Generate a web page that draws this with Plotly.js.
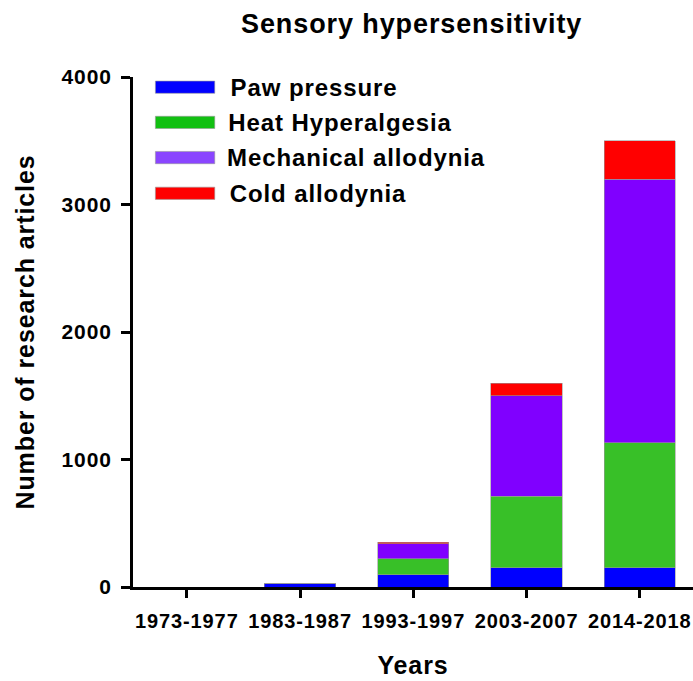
<!DOCTYPE html>
<html>
<head>
<meta charset="utf-8">
<script src="https://cdn.plot.ly/plotly-3.0.1.min.js"></script>
<style>
html,body{margin:0;padding:0;background:#fff;}
#chart{width:693px;height:681px;}
#chart svg text{letter-spacing:0.9px;}
</style>
</head>
<body>
<div id="chart"></div>
<script>
const years = ['1973-1977', '1983-1987', '1993-1997', '2003-2007', '2014-2018'];
const pawPressure = [0, 25, 95, 150, 150];
const heatHyperalgesia = [0, 0, 125, 560, 980];
const mechanicalAllodynia = [0, 0, 118, 790, 2070];
const coldAllodynia = [0, 0, 12, 100, 300];
const seriesNames = ['Paw pressure', 'Heat Hyperalgesia', 'Mechanical allodynia', 'Cold allodynia'];
const barColors = ['#0000FF', '#38C028', '#8000FF', '#FF0000'];
const legendColors = ['#0000FF', '#12C012', '#8A45FF', '#FF0000'];
const yTicks = [0, 1000, 2000, 3000, 4000];

const seriesValues = [pawPressure, heatHyperalgesia, mechanicalAllodynia, coldAllodynia];
const FONT = 'Arial, "Liberation Sans", Helvetica, sans-serif';

const traces = seriesValues.map((vals, i) => ({
  type: 'bar',
  name: seriesNames[i],
  x: years,
  y: vals,
  marker: {color: barColors[i], line: {color: '#9a9a9a', width: 0.6}},
  showlegend: false,
  hoverinfo: 'x+y+name'
}));

const shapes = [];
const annotations = [];
const legendY = [0.980, 0.911, 0.842, 0.772];
seriesNames.forEach((name, i) => {
  shapes.push({
    type: 'rect', xref: 'paper', yref: 'paper',
    x0: 0.040, x1: 0.146,
    y0: legendY[i] - 0.012, y1: legendY[i] + 0.012,
    fillcolor: legendColors[i], line: {color: '#999', width: 0.6}
  });
  annotations.push({
    xref: 'paper', yref: 'paper', x: 0.181, y: legendY[i],
    xanchor: 'left', yanchor: 'middle', showarrow: false,
    text: name,
    font: {family: FONT, size: 24, color: '#000', weight: 'bold'}
  });
});

const layout = {
  width: 693, height: 681,
  margin: {l: 133, r: 0, t: 77, b: 94},
  paper_bgcolor: '#fff', plot_bgcolor: '#fff',
  barmode: 'stack',
  bargap: 0.37,
  title: {
    text: 'Sensory hypersensitivity',
    font: {family: FONT, size: 27, color: '#000', weight: 'bold'},
    x: 0.594, xanchor: 'center', y: 0.966, yanchor: 'middle', xref: 'container'
  },
  xaxis: {
    type: 'category',
    range: [-0.475, 4.47],
    showline: true, linecolor: '#000', linewidth: 3,
    ticks: 'outside', ticklen: 8, tickwidth: 3, tickcolor: '#000',
    ticklabelstandoff: 6,
    showgrid: false, zeroline: false,
    tickfont: {family: FONT, size: 20, color: '#000', weight: 'bold'},
    title: {text: 'Years', font: {family: FONT, size: 25, color: '#000', weight: 'bold'}, standoff: 26}
  },
  yaxis: {
    range: [0, 4000],
    tickvals: yTicks,
    ticktext: yTicks.map(String),
    showline: true, linecolor: '#000', linewidth: 3,
    ticks: 'outside', ticklen: 9, tickwidth: 3, tickcolor: '#000',
    ticklabelstandoff: 5,
    showgrid: false, zeroline: false,
    tickfont: {family: FONT, size: 21, color: '#000', weight: 'bold'},
    title: {text: 'Number of research articles', font: {family: FONT, size: 25, color: '#000', weight: 'bold'}, standoff: 24}
  },
  shapes: shapes,
  annotations: annotations,
  showlegend: false
};

Plotly.newPlot('chart', traces, layout, {displayModeBar: false, staticPlot: true});
</script>
</body>
</html>
